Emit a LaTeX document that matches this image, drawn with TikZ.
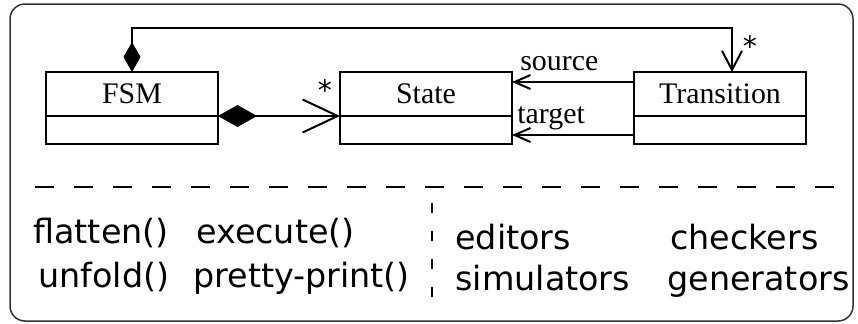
\documentclass[tikz,border=0pt]{standalone}
\usepackage{fontspec}
\setmainfont{Liberation Serif}
\newfontfamily\dejavu{DejaVu Sans}
\usetikzlibrary{arrows.meta,positioning}

\begin{document}
\begin{tikzpicture}[x=0.2mm,y=-0.2mm]
        \tikzstyle{every node}+=[inner sep=0pt]
        \tikzstyle{clshead}=[draw, line width=0.4mm, outer sep=0pt, minimum width=34.4mm, minimum height=8.8mm, font=\fontsize{17}{20}\selectfont]
        \tikzstyle{clsbody}=[draw, line width=0.4mm, outer sep=0pt, minimum width=34.4mm, minimum height=5.6mm]
        \tikzstyle{assoc}=[line width=0.4mm]
        \tikzstyle{role}=[anchor=base west, font=\fontsize{17}{20}\selectfont]
        \tikzstyle{mult}=[font=\dejavu\fontsize{16}{18}\selectfont]
        \tikzstyle{op}=[anchor=base west, font=\dejavu\fontsize{19}{22}\selectfont]
        \useasboundingbox (0,0) rectangle (858,323);
        \draw [rounded corners=3mm, line width=0.3mm, black!80] (10,4) rectangle (853,321);
        % classes
        \node [clshead] (fsm) at (132,94) {FSM};
        \node [clsbody, below=0pt of fsm] (fsmb) {};
        \node [clshead] (state) at (426,94) {State};
        \node [clsbody, below=0pt of state] (stateb) {};
        \node [clshead] (trans) at (720,94) {Transition};
        \node [clsbody, below=0pt of trans] (transb) {};
        % associations
        \coordinate (top) at (0,28);
        \draw [assoc, {Diamond[length=6mm,width=3.4mm]}-{Straight Barb[length=3.8mm,width=4mm]}]
                (fsm.north) -- (fsm.north |- top) -| ([xshift=2.4mm]trans.north);
        \node [mult] (mtrans) at (750,46) {*};
        \draw [assoc, {Diamond[length=7.8mm,width=4.4mm]}-{Straight Barb[length=7mm,width=6.6mm]}]
                (fsm.south east) -- (state.south west);
        \node [mult] (mstate) at (325,90) {*};
        \draw [assoc, -{Straight Barb[length=3.2mm,width=2.8mm]}]
                ([yshift=2.4mm]trans.west) -- ([yshift=2.4mm]state.east);
        \node [role] (source) at (520,70) {source};
        \draw [assoc, -{Straight Barb[length=3.2mm,width=2.8mm]}]
                ([yshift=-1mm]transb.west) -- ([yshift=-1mm]stateb.east);
        \node [role] (target) at (517,123) {target};
        % separators
        \coordinate (hl) at (35,187);
        \coordinate (hr) at (835,187);
        \draw [line width=0.4mm, dash pattern=on 3.8mm off 4mm] (hl) -- (hr);
        \coordinate (vt) at (432,203);
        \coordinate (vb) at (432,307);
        \draw [line width=0.3mm, dash pattern=on 2mm off 3.6mm] (vt) -- (vb);
        % operations and tools
        \node [op] (flatten) at (33,243) {flatten()};
        \node [op] (execute) at (196,243) {execute()};
        \node [op] (unfold) at (38,287) {unfold()};
        \node [op] (pretty) at (193,287) {pretty-print()};
        \node [op] (editors) at (455,249) {editors};
        \node [op] (checkers) at (670,249) {checkers};
        \node [op] (simul) at (455,290) {simulators};
        \node [op] (gener) at (667,290) {generators};
\end{tikzpicture}
\end{document}
